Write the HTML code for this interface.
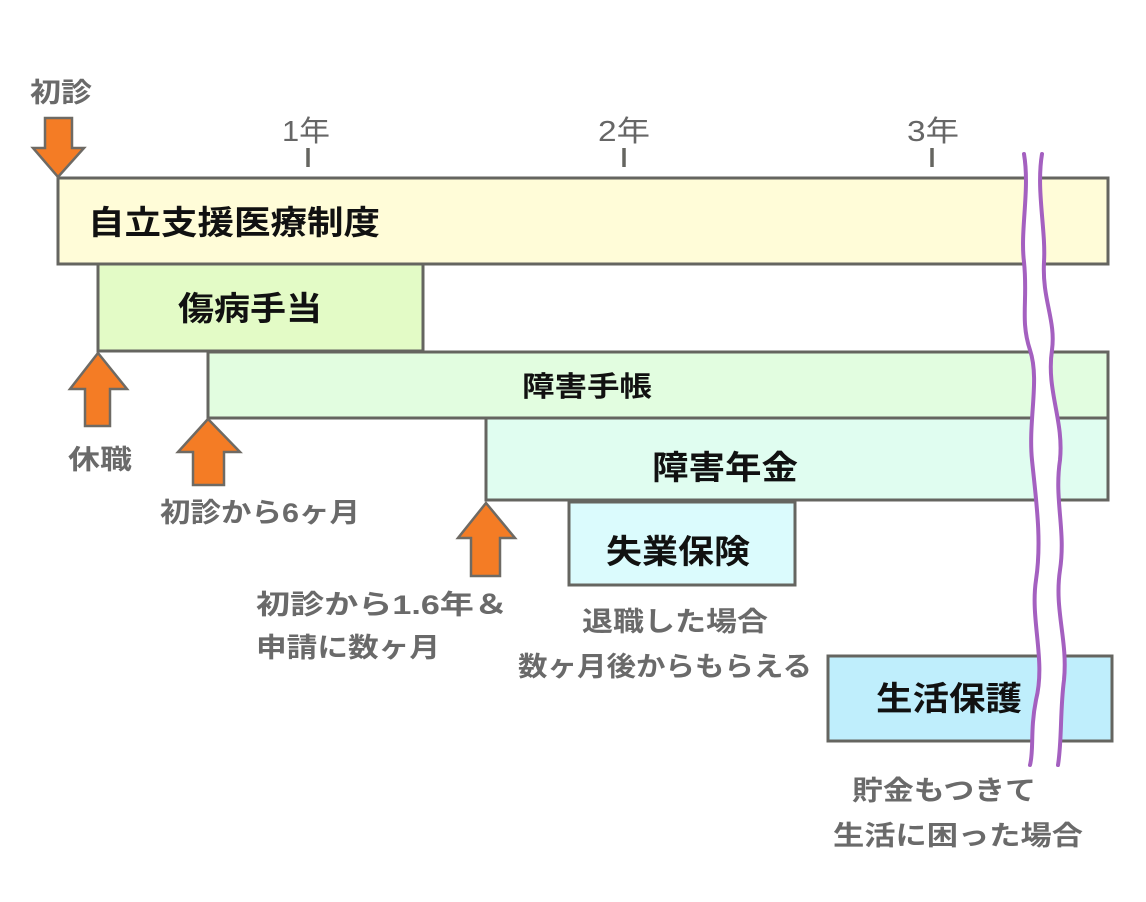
<!DOCTYPE html>
<html><head><meta charset="utf-8"><style>
body{margin:0;background:#fff}
svg{display:block}
text{font-family:"Liberation Sans","Noto Sans CJK JP",sans-serif;font-weight:bold}
.b{fill:#111;font-size:33px}
.g{fill:#6a6a6a;font-size:27px}
.t{fill:#666;font-size:29px;font-weight:normal}
</style></head><body>
<svg width="1146" height="902" viewBox="0 0 1146 902" xmlns="http://www.w3.org/2000/svg">
<g stroke="#656560" stroke-width="3">
<rect x="58" y="178" width="1050" height="86" fill="#fffcd8"/>
<rect x="98" y="264" width="325" height="87" fill="#e3fbc6"/>
<rect x="208" y="352" width="900" height="66" fill="#e2fde0"/>
<rect x="486" y="418" width="622" height="82" fill="#e0fdf0"/>
<rect x="569" y="502" width="226" height="83" fill="#dbfbfd"/>
<rect x="828" y="656" width="284" height="85" fill="#bfeefc"/>
</g>
<g stroke="#656560" stroke-width="3.5">
<line x1="308" y1="148" x2="308" y2="167"/>
<line x1="624" y1="148" x2="624" y2="167"/>
<line x1="932" y1="148" x2="932" y2="167"/>
</g>
<g fill="#f47c25" stroke="#6e6a64" stroke-width="2.5" stroke-linejoin="miter">
<polygon points="45,118 72,118 72,148 84,148 58,177 33,148 45,148"/>
<polygon points="98,353 127,389 110,389 110,426 85,426 85,389 70,389"/>
<polygon points="208,419 240,452 224,452 224,485 193,485 193,452 178,452"/>
<polygon points="486,503 515,538 500,538 500,576 471,576 471,538 458,538"/>
</g>
<g fill="none" stroke-linecap="round">
<path d="M1024 154 C1030 190,1020 230,1024 262 C1028 300,1020 320,1030 350 C1040 380,1028 420,1032 460 C1036 500,1042 540,1036 580 C1030 620,1046 660,1036 700 C1030 730,1034 750,1030 765 L1058 765 C1062 740,1060 710,1064 680 C1068 640,1054 610,1060 570 C1066 530,1054 500,1060 460 C1064 420,1046 390,1052 350 C1056 320,1042 300,1044 262 C1046 230,1036 190,1042 154 Z" fill="#fff" stroke="none"/>
<path d="M1024 154 C1030 190,1020 230,1024 262 C1028 300,1020 320,1030 350 C1040 380,1028 420,1032 460 C1036 500,1042 540,1036 580 C1030 620,1046 660,1036 700 C1030 730,1034 750,1030 765" stroke="#a460c0" stroke-width="4"/>
<path d="M1042 154 C1036 190,1046 230,1044 262 C1042 300,1056 320,1052 350 C1046 390,1064 420,1060 460 C1054 500,1066 530,1060 570 C1054 610,1068 640,1064 680 C1060 710,1062 740,1058 765" stroke="#a460c0" stroke-width="4"/>
</g>
<text class="b" x="88" y="234" textLength="292" lengthAdjust="spacingAndGlyphs">自立支援医療制度</text>
<text class="b" x="178" y="320" textLength="144" lengthAdjust="spacingAndGlyphs">傷病手当</text>
<text class="b" x="522" y="396" style="font-size:28px" textLength="130" lengthAdjust="spacingAndGlyphs">障害手帳</text>
<text class="b" x="652" y="479" textLength="146" lengthAdjust="spacingAndGlyphs">障害年金</text>
<text class="b" x="606" y="563" textLength="144" lengthAdjust="spacingAndGlyphs">失業保険</text>
<text class="b" x="876" y="710" textLength="146" lengthAdjust="spacingAndGlyphs">生活保護</text>
<text class="g" x="30" y="102" textLength="62" lengthAdjust="spacingAndGlyphs">初診</text>
<text class="t" x="282" y="141" textLength="48" lengthAdjust="spacingAndGlyphs">1年</text>
<text class="t" x="598" y="141" textLength="52" lengthAdjust="spacingAndGlyphs">2年</text>
<text class="t" x="907" y="141" textLength="52" lengthAdjust="spacingAndGlyphs">3年</text>
<text class="g" x="68" y="469" textLength="64" lengthAdjust="spacingAndGlyphs">休職</text>
<text class="g" x="160" y="522" textLength="200" lengthAdjust="spacingAndGlyphs">初診から6ヶ月</text>
<text class="g" x="256" y="614" textLength="252" lengthAdjust="spacingAndGlyphs">初診から1.6年＆</text>
<text class="g" x="256" y="657" textLength="184" lengthAdjust="spacingAndGlyphs">申請に数ヶ月</text>
<text class="g" x="582" y="631" textLength="186" lengthAdjust="spacingAndGlyphs">退職した場合</text>
<text class="g" x="518" y="676" textLength="294" lengthAdjust="spacingAndGlyphs">数ヶ月後からもらえる</text>
<text class="g" x="852" y="800" textLength="184" lengthAdjust="spacingAndGlyphs">貯金もつきて</text>
<text class="g" x="833" y="845" textLength="250" lengthAdjust="spacingAndGlyphs">生活に困った場合</text>
</svg>
</body></html>
